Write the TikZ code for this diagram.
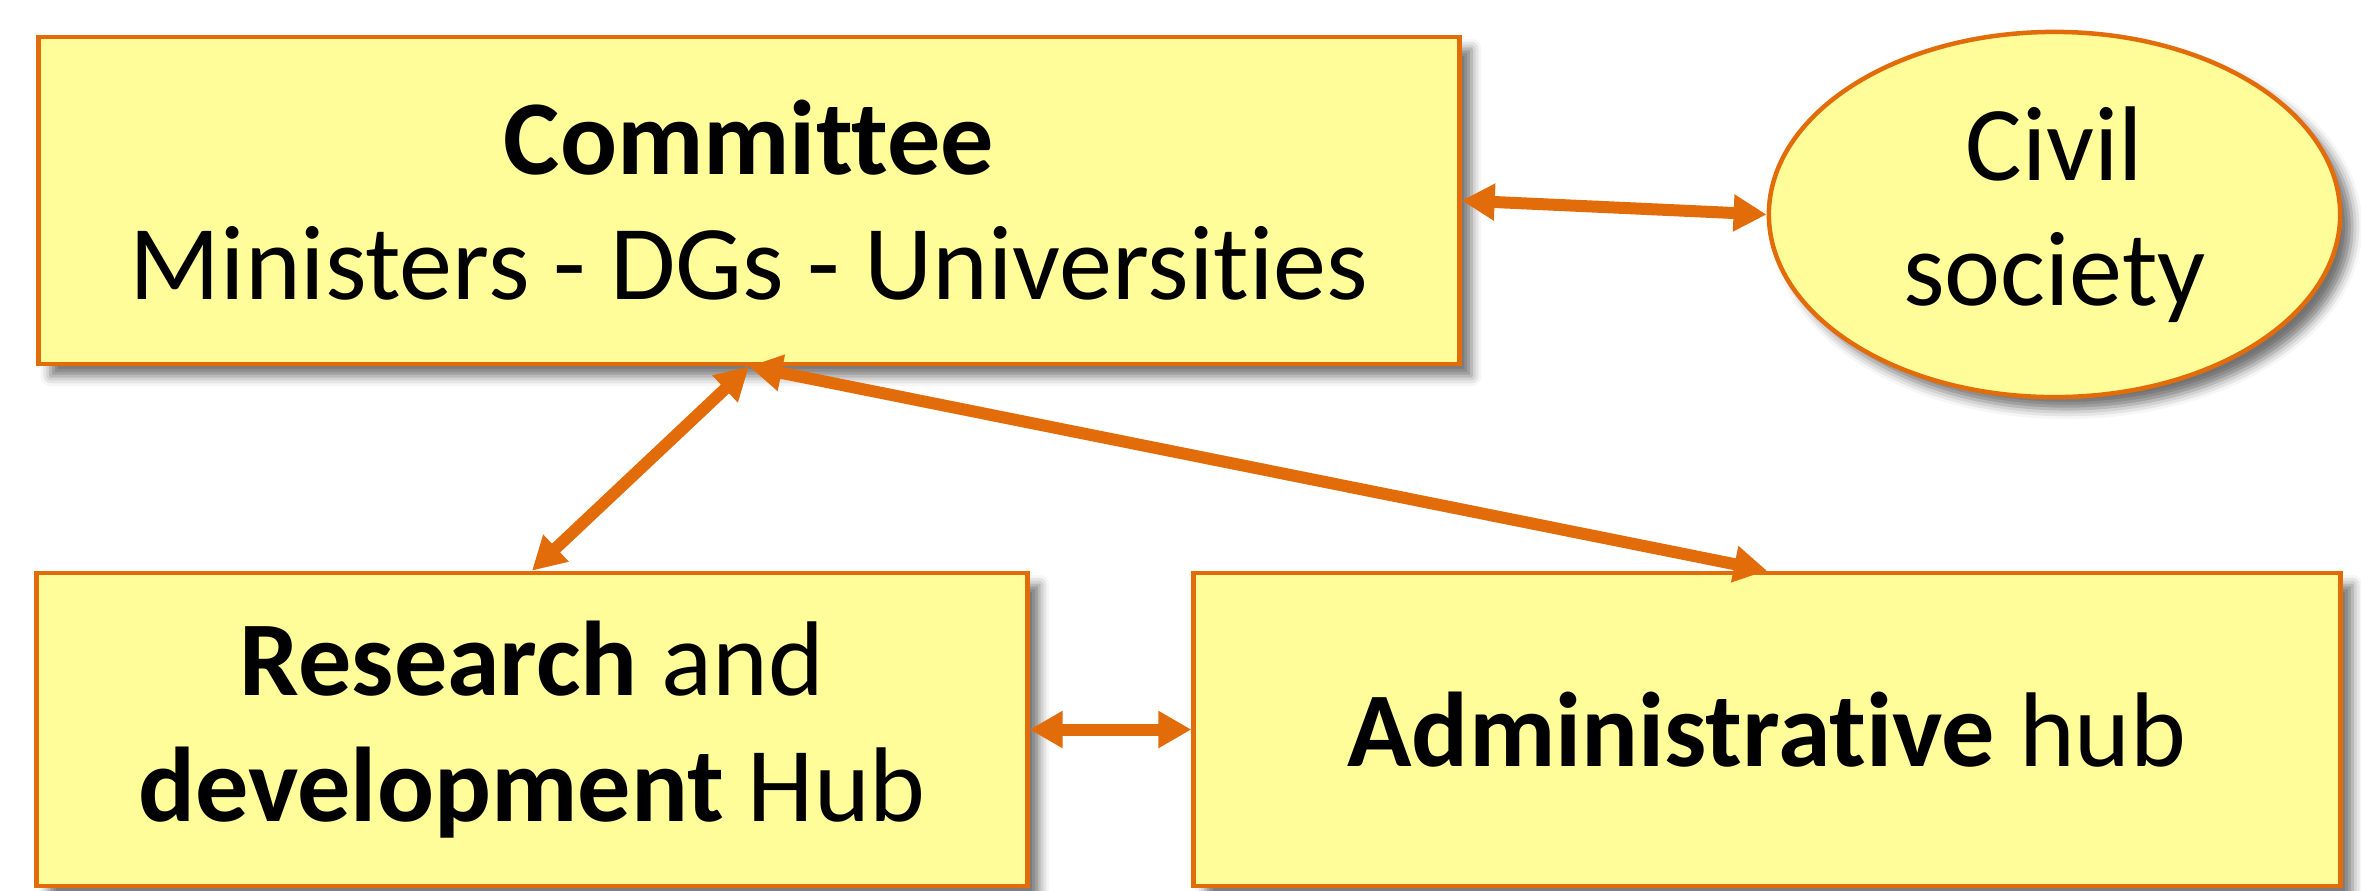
\documentclass[tikz,border=0pt]{standalone}
\usepackage{fontspec}
\setmainfont{Carlito}[Ligatures=NoCommon]
\usepackage{tikz}
\usetikzlibrary{arrows.meta,shapes.geometric,shadows.blur}
\definecolor{boxfill}{RGB}{255,253,153}
\definecolor{boxline}{RGB}{227,108,10}
\tikzset{
    box/.style={draw=boxline,fill=boxfill,line width=0.045cm,inner sep=0pt,align=center,
        font=\fontsize{30.2}{35.6}\selectfont,
        blur shadow={shadow xshift=0.12cm,shadow yshift=-0.12cm,shadow blur radius=0.1cm,shadow opacity=55}},
    link/.style={draw=boxline,line width=0.12cm,{Triangle[length=0.33cm,width=0.35cm]}-{Triangle[length=0.33cm,width=0.35cm]}}
}

\begin{document}
\begin{tikzpicture}[x=0.01cm,y=-0.01cm]
                        \useasboundingbox (0,0) rectangle (2361,890);

                        \node[box,minimum width=14.2cm,minimum height=3.27cm] (comm) at (749,200.5)
                            {\textbf{Committee}\\Ministers - DGs - Universities};
                        \node[box,ellipse,minimum width=5.71cm,minimum height=3.65cm] (civ) at (2054.5,214.5)
                            {Civil\\society};
                        \node[box,minimum width=9.9cm,minimum height=3.13cm] (rd) at (532,729.5)
                            {\textbf{Research} and\\\textbf{development} Hub};
                        \node[box,minimum width=11.46cm,minimum height=3.13cm] (adm) at (1767,729.5)
                            {\textbf{Administrative} hub};

                        \draw[link] (comm.east) -- (civ.west);
                        \draw[link] (comm.south) -- (rd.north);
                        \draw[link] (comm.south) -- (adm.north);
                        \draw[link] (rd.east) -- (adm.west);
                    \end{tikzpicture}
\end{document}
